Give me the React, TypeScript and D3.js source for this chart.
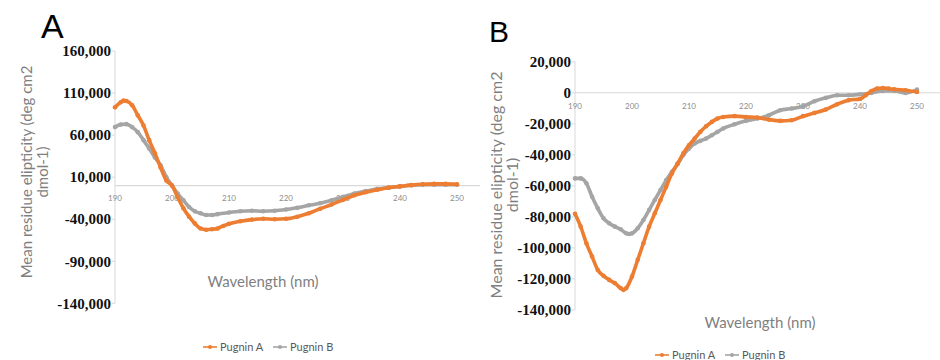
import React from "react";
import * as d3 from "d3";

// ---- Panel A data ----
const aOrangeX = [190,191,191.5,192,193,194,195,196,197,198,199,200,201,202,203,204,205,206,207,208,209,210,212,214,216,218,220,222,224,226,228,230,232,234,236,238,240,242,244,246,248,250];
const aOrangeY = [93000,99000,101000,100500,95500,83500,71500,54000,38500,21500,6000,0,-14000,-27000,-37000,-45000,-51000,-52500,-52000,-51000,-48000,-45500,-42500,-40500,-39500,-40000,-39500,-37000,-33000,-27500,-22500,-17000,-11500,-8000,-5000,-2500,-1000,500,1500,2000,2000,1500];
const aGrayX = [190,191,192,193,194,195,196,197,198,199,200,201,202,203,204,205,206,207,208,210,212,214,216,218,220,222,224,226,228,230,232,234,236,238,240,242,244,246,248,250];
const aGrayY = [69500,72500,73000,69500,63500,54000,44000,33500,24000,10000,0,-9500,-17500,-25500,-30500,-33000,-35000,-35000,-34000,-32000,-30500,-30000,-30500,-30000,-28500,-26500,-23500,-21000,-17500,-13500,-9500,-6500,-4000,-2500,-1000,500,1000,1000,1000,1000];
const aYTicks = [160000,110000,60000,10000,-40000,-90000,-140000];

// ---- Panel B data ----
const bOrangeX = [190,191,192,193,194,195,196,197,198,198.5,199,200,201,202,203,204,205,206,207,208,209,210,211,212,213,214,215,216,218,220,222,224,226,228,230,232,234,236,238,240,241,242,243,244,245,246,248,250];
const bOrangeY = [-78000,-86300,-97000,-105600,-114200,-118000,-120600,-122700,-125900,-127000,-125900,-118400,-107700,-97000,-86300,-77700,-69100,-60600,-52000,-45600,-39100,-33800,-29500,-25200,-21600,-18800,-16600,-15600,-15100,-15600,-16000,-17300,-18100,-17700,-15100,-13000,-10800,-7400,-4800,-4000,-1600,1100,2700,3100,2700,2200,1600,500];
const bGrayX = [190,191,192,193,194,195,196,197,198,199,199.5,200,201,202,203,204,205,206,207,208,209,210,211,212,213,214,215,216,218,220,222,224,226,228,230,232,234,236,238,240,242,244,246,248,250];
const bGrayY = [-55200,-55200,-58400,-67000,-74500,-80900,-84100,-86300,-88000,-90600,-91000,-90600,-87300,-82000,-75600,-69100,-62700,-56300,-50900,-46000,-40200,-35900,-32700,-31000,-29500,-27400,-25200,-23000,-20300,-18100,-16600,-14500,-11300,-10200,-8700,-5500,-3300,-1600,-1600,-1000,-150,1100,1100,-150,2000];
const bYTicks = [20000,0,-20000,-40000,-60000,-80000,-100000,-120000,-140000];

const xTicks = [190,200,210,220,230,240,250];
const seriesNames = ["Pugnin A","Pugnin B"];
const ORANGE = "#ED7D31";
const GRAY = "#A5A5A5";

const fmt = d3.format(",");

type PanelProps = {
  letter: string; letterX: number; letterY: number; letterSize: number;
  x0: number; x1: number; yTop: number; yBot: number; yMin: number; yMax: number;
  zeroEnd: number; ticks: number[];
  orange: [number[], number[]]; gray: [number[], number[]];
  titleX1: number; titleX2: number; titleCY: number; titleSize: number;
  wlX: number; wlY: number; xTickY: number;
  legY: number; legX: number;
};

function Series({ xs, ys, xs_, ys_, color }: any) {
  const pts: [number, number][] = xs.map((v: number, i: number) => [xs_(v), ys_(ys[i])]);
  const line = d3.line().curve(d3.curveMonotoneX)(pts) || "";
  return (
    <g>
      <path d={line} fill="none" stroke={color} strokeWidth={3.6} />
      {pts.map((p, i) => <circle key={i} cx={p[0]} cy={p[1]} r={2.3} fill={color} />)}
    </g>
  );
}

function Panel(p: PanelProps) {
  const x = d3.scaleLinear().domain([190, 250]).range([p.x0, p.x1]);
  const y = d3.scaleLinear().domain([p.yMin, p.yMax]).range([p.yBot, p.yTop]);
  const zy = y(0);
  return (
    <g>
      <text x={p.letterX} y={p.letterY} fontFamily="Liberation Sans, Arial" fontSize={p.letterSize} fill="#000">{p.letter}</text>
      <line x1={p.x0} x2={p.x0} y1={p.yTop} y2={p.yBot} stroke="#d9d9d9" strokeWidth={1} />
      <line x1={p.x0} x2={p.zeroEnd} y1={zy} y2={zy} stroke="#d9d9d9" strokeWidth={1.2} />
      {p.ticks.map((t) => (
        <g key={t}>
          <line x1={p.x0 - 3} x2={p.x0} y1={y(t)} y2={y(t)} stroke="#d9d9d9" strokeWidth={1} />
          <text x={p.x0 - 4} y={y(t)} dy="0.35em" textAnchor="end" fontFamily="Liberation Serif, serif" fontWeight="bold" fontSize={15} fill="#111">{fmt(t).replace("−", "-")}</text>
        </g>
      ))}
      {xTicks.map((t) => (
        <text key={t} x={x(t)} y={p.xTickY} textAnchor="middle" fontFamily="Lato, sans-serif" fontSize={8} fill="#8c8c8c">{t}</text>
      ))}
      <text transform={`translate(${p.titleX1},${p.titleCY}) rotate(-90)`} textAnchor="middle" fontFamily="Lato, sans-serif" fontSize={p.titleSize} fill="#7f7f7f">Mean residue elipticity (deg cm2</text>
      <text transform={`translate(${p.titleX2},${p.titleCY}) rotate(-90)`} textAnchor="middle" fontFamily="Lato, sans-serif" fontSize={p.titleSize} fill="#7f7f7f">dmol-1)</text>
      <text x={p.wlX} y={p.wlY} textAnchor="middle" fontFamily="Lato, sans-serif" fontSize={15} fill="#7f7f7f">Wavelength (nm)</text>
      <Series xs={p.gray[0]} ys={p.gray[1]} xs_={x} ys_={y} color={GRAY} />
      <Series xs={p.orange[0]} ys={p.orange[1]} xs_={x} ys_={y} color={ORANGE} />
      {seriesNames.map((n, i) => {
        const lx = p.legX + i * 70;
        const c = i === 0 ? ORANGE : GRAY;
        return (
          <g key={n}>
            <line x1={lx} x2={lx + 14} y1={p.legY - 4} y2={p.legY - 4} stroke={c} strokeWidth={1.6} />
            <circle cx={lx + 7} cy={p.legY - 4} r={2} fill={c} />
            <text x={lx + 17} y={p.legY} fontFamily="Lato, sans-serif" fontSize={11} fill="#595959">{n}</text>
          </g>
        );
      })}
    </g>
  );
}

export default function App() {
  return (
    <svg width={940} height={360} style={{ position: "absolute", left: 0, top: 0, background: "#fff" }}>
      <rect width={940} height={360} fill="#fff" />
      <Panel letter="A" letterX={41} letterY={38} letterSize={34}
        x0={115} x1={457} yTop={51} yBot={303.3} yMin={-140000} yMax={160000}
        zeroEnd={480} ticks={aYTicks}
        orange={[aOrangeX, aOrangeY]} gray={[aGrayX, aGrayY]}
        titleX1={32} titleX2={48} titleCY={172} titleSize={15}
        wlX={263} wlY={287} xTickY={201}
        legY={351} legX={203} />
      <Panel letter="B" letterX={489} letterY={42} letterSize={30}
        x0={575} x1={917} yTop={61.7} yBot={310} yMin={-140000} yMax={20000}
        zeroEnd={940} ticks={bYTicks}
        orange={[bOrangeX, bOrangeY]} gray={[bGrayX, bGrayY]}
        titleX1={502} titleX2={518} titleCY={185} titleSize={16}
        wlX={760} wlY={328} xTickY={109}
        legY={359} legX={655} />
    </svg>
  );
}
